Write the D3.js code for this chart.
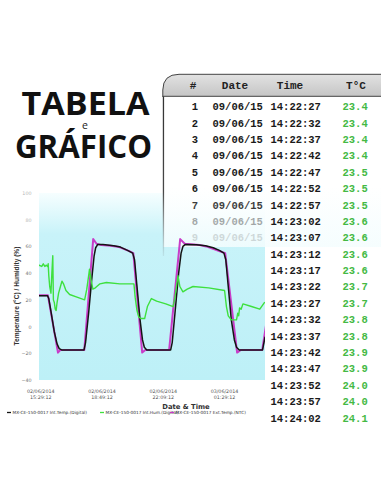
<!DOCTYPE html>
<html>
<head>
<meta charset="utf-8">
<script src="https://cdn.jsdelivr.net/npm/d3@7"></script>
<style>
body{margin:0;background:#fff;}
svg{display:block;}
</style>
</head>
<body>
<div id="chart"></div>
<script>
// table values
var rowNums = [1,2,3,4,5,6,7,8,9];
var rowDates = ["09/06/15","09/06/15","09/06/15","09/06/15","09/06/15","09/06/15","09/06/15","09/06/15","09/06/15"];
var rowTimes = ["14:22:27","14:22:32","14:22:37","14:22:42","14:22:47","14:22:52","14:22:57","14:23:02","14:23:07","14:23:12",
                "14:23:17","14:23:22","14:23:27","14:23:32","14:23:37","14:23:42","14:23:47","14:23:52","14:23:57","14:24:02"];
var rowTemps = ["23.4","23.4","23.4","23.4","23.5","23.5","23.5","23.6","23.6","23.6",
                "23.6","23.7","23.7","23.8","23.8","23.9","23.9","24.0","24.0","24.1"];
var headers = ["#","Date","Time","T°C"];

// chart values: [minutes after 02/06/2014 15:29:12, value]
var intTemp = [[-4,23],[24,23],[28,21],[36,10],[46,-4],[55,-13],[62,-16.5],[70,-17.5],[143,-17.5],[148,-12],[158,10],[168,35],
  [176,53],[181,59],[188,61.5],[205,61.5],[240,60.5],[262,59.5],[285,57],[302,55],[308,50],[316,30],[326,5],[334,-10],
  [340,-15.5],[348,-17.5],[426,-17.5],[431,-12],[440,10],[452,40],[460,55],[466,60],[474,61.5],[510,61.3],[540,60.5],
  [565,59],[585,57],[600,55],[606,50],[614,30],[624,5],[634,-10],[641,-15.5],[650,-17.5],[726,-17.5],[734,-8]];
var intHum = [[-4,46],[5,45],[10,47],[15,45],[20,46],[24,45],[26,47],[28,38],[31,30],[35,25],[38,40],[41,53],[43,20],
  [46,18],[49,13],[52,12],[55,18],[60,25],[66,30],[71,34],[76,32],[84,27],[96,24],[120,22],[145,20],[152,28],[158,38],
  [161,43],[166,35],[172,28],[180,29],[195,32],[216,33],[260,32],[306,32],[310,22],[316,12],[322,7],[330,6],[341,6],
  [350,15],[363,21],[380,19],[410,17],[434,15],[440,22],[446,32],[450,38],[456,30],[466,26],[480,28],[499,30],[550,29],
  [602,27],[608,15],[614,8],[624,5],[641,5],[645,10],[648,8],[651,14],[656,13],[662,17],[690,15],[717,13],[732,18]];
var extTemp = [[-4,23.5],[25,23.5],[58,-19.5],[66,-17.5],[144,-17.5],[173,65.5],[184,62],[200,61],[230,60.5],[258,59.5],
  [291,56.5],[304,55],[333,-19.5],[343,-17.5],[421,-17.5],[457,65.5],[472,62],[520,61],[542,60],[591,56],[604,55],
  [643,-19.5],[655,-17.5],[725,-17.5],[738,2]];
var seriesNames = ["MX-CE-150-0017 Int.Temp.(Digital)","MX-CE-150-0017 Int.Hum.(Digital)","MX-CE-150-0017 Ext.Temp.(NTC)"];
var yTicks = [-40,-20,0,20,40,60,80,100];
var xTicks = [0,200,400,600];

var W = 381, H = 492;
var svg = d3.select("#chart").append("svg").attr("width", W).attr("height", H);
var defs = svg.append("defs");
svg.append("rect").attr("width", W).attr("height", H).attr("fill", "#fff");

var start = new Date(2014, 5, 2, 15, 29, 12);
function t(m){ return new Date(start.getTime() + m*60000); }

// --- title
svg.append("text").attr("x", 21.5).attr("y", 114.5).attr("textLength", 128).attr("lengthAdjust", "spacingAndGlyphs")
  .attr("font-family", "Open Sans").attr("font-weight", 700).attr("font-size", 32).attr("fill", "#111").text("TABELA");
svg.append("text").attr("x", 85).attr("y", 129).attr("text-anchor", "middle")
  .attr("font-family", "Open Sans").attr("font-size", 10.5).attr("fill", "#222").text("e");
svg.append("text").attr("x", 15).attr("y", 158.3).attr("textLength", 137).attr("lengthAdjust", "spacingAndGlyphs")
  .attr("font-family", "Open Sans").attr("font-weight", 700).attr("font-size", 32).attr("fill", "#111").text("GRÁFICO");

// --- chart
var plot = {x: 39, y: 193, w: 226, h: 187};
var x = d3.scaleTime().domain([t(-4), t(734)]).range([plot.x, plot.x + plot.w]);
var y = d3.scaleLinear().domain([-40, 100]).range([plot.y + plot.h, plot.y]);

var bg = defs.append("linearGradient").attr("id", "bg").attr("x1", 0).attr("y1", 0).attr("x2", 0).attr("y2", 1);
bg.append("stop").attr("offset", 0).attr("stop-color", "#f6feff");
bg.append("stop").attr("offset", 0.22).attr("stop-color", "#c8f3f9");
bg.append("stop").attr("offset", 1).attr("stop-color", "#bdf0f7");
svg.append("rect").attr("x", plot.x).attr("y", plot.y).attr("width", plot.w).attr("height", plot.h).attr("fill", "url(#bg)");

defs.append("clipPath").attr("id", "clip").append("rect")
  .attr("x", plot.x).attr("y", plot.y - 10).attr("width", plot.w).attr("height", plot.h + 10);
defs.append("clipPath").attr("id", "clipW").append("rect")
  .attr("x", 0).attr("y", 0).attr("width", plot.x + plot.w).attr("height", H);

// table panel washing over the top of the chart
var fade = defs.append("linearGradient").attr("id", "fade").attr("x1", 0).attr("y1", 0).attr("x2", 0).attr("y2", 1);
fade.append("stop").attr("offset", 0).attr("stop-color", "#fff").attr("stop-opacity", 1);
fade.append("stop").attr("offset", 0.6).attr("stop-color", "#fff").attr("stop-opacity", 1);
fade.append("stop").attr("offset", 1).attr("stop-color", "#f4fdfe").attr("stop-opacity", 0.85);
svg.append("rect").attr("x", 163.5).attr("y", 96).attr("width", W - 163.5).attr("height", 151).attr("fill", "url(#fade)");

var lineFade = defs.append("linearGradient").attr("id", "lineFade").attr("gradientUnits", "userSpaceOnUse")
  .attr("x1", 0).attr("y1", 96).attr("x2", 0).attr("y2", 256);
lineFade.append("stop").attr("offset", 0).attr("stop-color", "#333").attr("stop-opacity", 1);
lineFade.append("stop").attr("offset", 0.6).attr("stop-color", "#333").attr("stop-opacity", 0.9);
lineFade.append("stop").attr("offset", 1).attr("stop-color", "#555").attr("stop-opacity", 0.1);
svg.append("rect").attr("x", 162.8).attr("y", 96).attr("width", 1.3).attr("height", 160).attr("fill", "url(#lineFade)");

// header bar
var hg = defs.append("linearGradient").attr("id", "hg").attr("x1", 0).attr("y1", 0).attr("x2", 0).attr("y2", 1);
hg.append("stop").attr("offset", 0).attr("stop-color", "#e2e2e2");
hg.append("stop").attr("offset", 1).attr("stop-color", "#c4c4c4");
svg.append("path")
  .attr("d", "M162.8,97 L162.8,90 Q163,74.3 179,74.3 L" + (W + 2) + ",74.3 L" + (W + 2) + ",96.3 L162.8,96.3")
  .attr("fill", "url(#hg)").attr("stroke", "#444").attr("stroke-width", 1);

var mono = "'Liberation Mono', 'Courier New', monospace";
var headX = [193, 235, 290, 356];
svg.selectAll("text.head").data(headers).enter().append("text").attr("class", "head")
  .attr("x", function(d, i){ return headX[i]; }).attr("y", 89)
  .attr("text-anchor", "middle").attr("font-family", mono).attr("font-weight", 700).attr("font-size", 11)
  .attr("fill", "#222").text(function(d){ return d; });

function rowY(i){ return 106.7 + i * 16.38 + 3.6; }
var rowOpacity = [1,1,1,1,1,1,0.85,0.38,0.16];
svg.selectAll("text.num").data(rowNums).enter().append("text").attr("class", "num")
  .attr("x", 195).attr("y", function(d, i){ return rowY(i); }).attr("text-anchor", "middle")
  .attr("font-family", mono).attr("font-weight", 700).attr("font-size", 10.5).attr("fill", "#1a1a1a")
  .attr("opacity", function(d, i){ return rowOpacity[i]; }).text(function(d){ return d; });
svg.selectAll("text.date").data(rowDates).enter().append("text").attr("class", "date")
  .attr("x", 212.5).attr("y", function(d, i){ return rowY(i); })
  .attr("font-family", mono).attr("font-weight", 700).attr("font-size", 10.5).attr("fill", "#1a1a1a")
  .attr("opacity", function(d, i){ return rowOpacity[i]; }).text(function(d){ return d; });
svg.selectAll("text.time").data(rowTimes).enter().append("text").attr("class", "time")
  .attr("x", 270.5).attr("y", function(d, i){ return rowY(i); })
  .attr("font-family", mono).attr("font-weight", 700).attr("font-size", 10.5).attr("fill", "#1a1a1a")
  .text(function(d){ return d; });
svg.selectAll("text.temp").data(rowTemps).enter().append("text").attr("class", "temp")
  .attr("x", 342.5).attr("y", function(d, i){ return rowY(i); })
  .attr("font-family", mono).attr("font-weight", 700).attr("font-size", 10.5).attr("fill", "#44b944")
  .text(function(d){ return d; });

// axes
var sans = "'DejaVu Sans', Verdana, sans-serif";
var yAxis = svg.append("g").attr("transform", "translate(" + plot.x + ",0)")
  .call(d3.axisLeft(y).tickValues(yTicks).tickSize(0).tickPadding(7.5));
yAxis.select(".domain").remove();
yAxis.selectAll("text").attr("font-family", sans).attr("font-size", 4.8)
  .attr("fill", function(d){ return d >= 80 ? "#b5b5b5" : "#777"; });

var fmtDate = d3.timeFormat("%d/%m/%Y"), fmtTime = d3.timeFormat("%H:%M:%S");
var xAxis = svg.append("g").attr("transform", "translate(0," + (plot.y + plot.h) + ")")
  .call(d3.axisBottom(x).tickValues(xTicks.map(t)).tickSize(0).tickPadding(8).tickFormat(""));
xAxis.select(".domain").remove();
xAxis.selectAll(".tick text").each(function(d){
  var el = d3.select(this).attr("font-family", sans).attr("font-size", 4.8).attr("fill", "#555").attr("y", 0);
  el.append("tspan").attr("x", 0).attr("dy", 12.5).text(fmtDate(d));
  el.append("tspan").attr("x", 0).attr("dy", 6.8).text(fmtTime(d));
});

svg.append("text").attr("x", 186).attr("y", 409).attr("text-anchor", "middle")
  .attr("font-family", sans).attr("font-weight", 700).attr("font-size", 6.8).attr("fill", "#333").text("Date & Time");
svg.append("text").attr("transform", "translate(19,296)rotate(-90)").attr("text-anchor", "middle")
  .attr("font-family", "'Liberation Sans', Arial, sans-serif").attr("font-weight", 700).attr("font-size", 6.6)
  .attr("fill", "#333").text("Temperature (°C) / Humidity (%)");

// lines
var line = d3.line().x(function(d){ return x(t(d[0])); }).y(function(d){ return y(d[1]); });
var lines = svg.append("g").attr("clip-path", "url(#clip)")
  .attr("fill", "none").attr("stroke-linejoin", "round").attr("stroke-linecap", "round");
lines.append("path").datum(extTemp).attr("d", line).attr("stroke", "#c83cc8").attr("stroke-width", 2);
lines.append("path").datum(intTemp).attr("d", line).attr("stroke", "#141414").attr("stroke-width", 1.5);
lines.append("path").datum(intHum).attr("d", line).attr("stroke", "#3ee03e").attr("stroke-width", 1.4);

// legend
var legColors = ["#141414", "#3ee03e", "#c83cc8"];
var legX = [7, 100, 170];
var leg = svg.append("g").attr("clip-path", "url(#clipW)");
seriesNames.forEach(function(name, i){
  leg.append("line").attr("x1", legX[i]).attr("x2", legX[i] + 4).attr("y1", 412.5).attr("y2", 412.5)
    .attr("stroke", legColors[i]).attr("stroke-width", 1.3);
  leg.append("text").attr("x", legX[i] + 5.5).attr("y", 414).attr("font-family", sans).attr("font-size", 4.3)
    .attr("fill", "#333").text(name);
});
</script>
</body>
</html>
